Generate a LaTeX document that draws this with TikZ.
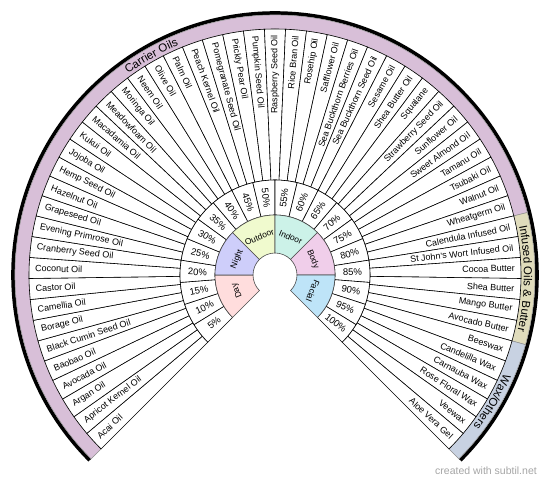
\documentclass[tikz,border=0pt]{standalone}
\usepackage{fontspec}
\setmainfont{Liberation Sans}
\usetikzlibrary{decorations.text}
\definecolor{dayseg}{RGB}{255, 221, 221}
\definecolor{nightseg}{RGB}{206, 206, 250}
\definecolor{outdoorseg}{RGB}{240, 250, 206}
\definecolor{indoorseg}{RGB}{204, 242, 232}
\definecolor{bodyseg}{RGB}{240, 206, 234}
\definecolor{facialseg}{RGB}{190, 228, 248}
\definecolor{carrierband}{RGB}{216, 191, 216}
\definecolor{infusedband}{RGB}{224, 220, 188}
\definecolor{waxband}{RGB}{200, 210, 226}
\definecolor{creditgray}{RGB}{165, 165, 165}

\tikzset{
  cell/.style={draw=black, line width=0.6pt, fill=white},
  segcell/.style={draw=black!70, line width=0.6pt},
  bandcell/.style={draw=black!45, line width=0.5pt},
  oillabel/.style={font=\fontsize{9}{10}\selectfont, inner sep=1pt},
  pctlabel/.style={font=\fontsize{9.5}{11}\selectfont, inner sep=0pt},
  seglabel/.style={font=\fontsize{8.5}{10}\selectfont, inner sep=0pt},
}

\begin{document}
\begin{tikzpicture}[x=1pt, y=1pt]
	\useasboundingbox (0,0) rectangle (550,482);
	\def\rh{22}
	\def\ra{60}
	\def\rb{95}
	\def\rc{246}
	\def\rd{260}
	\def\rt{241}
	\def\os{4.909091}
	
	\begin{scope}[shift={(275,207)}]
		% shadow under the outer band
		\draw[line width=3.6pt] (225:262) arc[start angle=225, end angle=-45, radius=262];
		
		% outer bands
		\filldraw[bandcell, fill=carrierband] (225:\rc) arc[start angle=225, end angle=13.909, radius=\rc] -- (13.909:\rd) arc[start angle=13.909, end angle=225, radius=\rd] -- cycle;
		\filldraw[bandcell, fill=infusedband] (13.909:\rc) arc[start angle=13.909, end angle=-15.545, radius=\rc] -- (-15.545:\rd) arc[start angle=-15.545, end angle=13.909, radius=\rd] -- cycle;
		\filldraw[bandcell, fill=waxband] (-15.545:\rc) arc[start angle=-15.545, end angle=-45, radius=\rc] -- (-45:\rd) arc[start angle=-45, end angle=-15.545, radius=\rd] -- cycle;
		
		\path[decorate, decoration={text along path, text align=center,
			text={|\fontsize{11.5}{13}\selectfont|Carrier Oils}}]
			(225:249) arc[start angle=225, end angle=13.909, radius=249];
		\path[decorate, decoration={text along path, text align=center,
			text={|\fontsize{11.5}{13}\selectfont|Infused Oils {\&} Butter}}]
			(13.909:249) arc[start angle=13.909, end angle=-15.545, radius=249];
		\path[decorate, decoration={text along path, text align=center,
			text={|\fontsize{11.5}{13}\selectfont|Wax/Others}}]
			(-15.545:249) arc[start angle=-15.545, end angle=-45, radius=249];
		
		% oil ring
		\foreach \name [count=\i from 0] in {Acai Oil, Apricot Kernel Oil, Argan Oil, Avocada Oil, Baobao Oil,
			Black Cumin Seed Oil, Borage Oil, Camellia Oil, Castor Oil, Coconut Oil, Cranberry Seed Oil,
			Evening Primrose Oil, Grapeseed Oil, Hazelnut Oil, Hemp Seed Oil, Jojoba Oil, Kukui Oil,
			Macadamia Oil, Meadowfoam Oil, Moringa Oil, Neem Oil, Olive Oil, Palm Oil, Peach Kernel Oil,
			Pomegranate Seed Oil, Prickly Pear Oil, Pumpkin Seed Oil, Raspberry Seed Oil, Rice Bran Oil,
			Rosehip Oil, Safflower Oil, Sea Buckthorn Berries Oil, Sea Buckthorn Seed Oil, Sesame Oil,
			Shea Butter Oil, Squalane, Strawberry Seed Oil, Sunflower Oil, Sweet Almond Oil, Tamanu Oil,
			Tsubaki Oil, Walnut Oil, Wheatgerm Oil, Calendula Infused Oil, St John's Wort Infused Oil,
			Cocoa Butter, Shea Butter, Mango Butter, Avocado Butter, Beeswax, Candelilla Wax,
			Carnauba Wax, Rose Floral Wax, Veewax, Aloe Vera Gel} {
			\pgfmathsetmacro\aone{225-\i*\os}
			\pgfmathsetmacro\atwo{\aone-\os}
			\pgfmathsetmacro\amid{\aone-\os/2}
			\pgfmathtruncatemacro\isleft{\amid>90.01}
			\draw[cell] (\aone:\rb) arc[start angle=\aone, end angle=\atwo, radius=\rb] -- (\atwo:\rc) arc[start angle=\atwo, end angle=\aone, radius=\rc] -- cycle;
			\ifnum\isleft=1
				\node[oillabel, anchor=west, rotate=\amid+180] (oil-\i) at (\amid:\rt) {\name};
			\else
				\node[oillabel, anchor=east, rotate=\amid] (oil-\i) at (\amid:\rt) {\name};
			\fi
		}
		
		% percentage ring
		\foreach \i in {0,...,19} {
			\pgfmathsetmacro\aone{225-\i*13.5}
			\pgfmathsetmacro\atwo{\aone-13.5}
			\pgfmathsetmacro\amid{\aone-6.75}
			\pgfmathtruncatemacro\isleft{\amid>90.01}
			\pgfmathtruncatemacro\pct{(\i+1)*5}
			\draw[cell] (\aone:\ra) arc[start angle=\aone, end angle=\atwo, radius=\ra] -- (\atwo:\rb) arc[start angle=\atwo, end angle=\aone, radius=\rb] -- cycle;
			\ifnum\isleft=1
				\node[pctlabel, rotate=\amid+180] (pct-\i) at (\amid:77.5) {\pct\%};
			\else
				\node[pctlabel, rotate=\amid] (pct-\i) at (\amid:77.5) {\pct\%};
			\fi
		}
		
		% inner ring
		\foreach \seg/\col [count=\i from 0] in {Day/dayseg, Night/nightseg, Outdoor/outdoorseg,
			Indoor/indoorseg, Body/bodyseg, Facial/facialseg} {
			\pgfmathsetmacro\aone{225-\i*45}
			\pgfmathsetmacro\atwo{\aone-45}
			\pgfmathsetmacro\amid{\aone-22.5}
			\filldraw[segcell, fill=\col] (\aone:\rh) arc[start angle=\aone, end angle=\atwo, radius=\rh] -- (\atwo:\ra) arc[start angle=\atwo, end angle=\aone, radius=\ra] -- cycle;
			\node[seglabel, rotate=\amid-90] (seg-\i) at (\amid:41) {\seg};
		}
	\end{scope}
	
	\node[text=creditgray, font=\fontsize{10.5}{12}\selectfont] (credit) at (486,11) {created with subtil.net};
	
\end{tikzpicture}
\end{document}
